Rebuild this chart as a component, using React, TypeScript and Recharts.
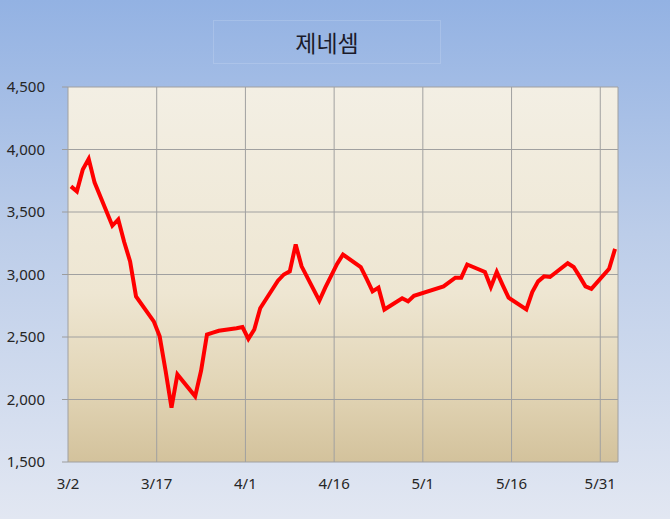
import { CartesianGrid, Line, LineChart, XAxis, YAxis } from 'recharts'

// 2020 trading days (KRX), closing prices
const dates = [
  '3/2', '3/3', '3/4', '3/5', '3/6', '3/9', '3/10', '3/11', '3/12', '3/13',
  '3/16', '3/17', '3/18', '3/19', '3/20', '3/23', '3/24', '3/25', '3/26', '3/27',
  '3/30', '3/31', '4/1', '4/2', '4/3', '4/6', '4/7', '4/8', '4/9', '4/10',
  '4/13', '4/14', '4/16', '4/17', '4/20', '4/21', '4/22', '4/23', '4/24', '4/27',
  '4/28', '4/29', '5/4', '5/6', '5/7', '5/8', '5/11', '5/12', '5/13', '5/14',
  '5/15', '5/18', '5/19', '5/20', '5/21', '5/22', '5/25', '5/26', '5/27', '5/28',
  '5/29', '6/1', '6/2',
]
const prices = [
  3705, 3665, 3840, 3925, 3735, 3390, 3440, 3260, 3105, 2825,
  2625, 2505, 2230, 1935, 2200, 2025, 2230, 2520, 2535, 2550,
  2570, 2580, 2485, 2560, 2730, 2950, 3000, 3025, 3240, 3065,
  2790, 2895, 3085, 3160, 3060, 2965, 2865, 2895, 2720, 2810,
  2785, 2830, 2905, 2975, 2975, 3080, 3020, 2900, 3020, 2915,
  2815, 2720, 2860, 2945, 2985, 2980, 3090, 3060, 2985, 2905,
  2885, 3045, 3205,
]
const dateTicks = ['3/2', '3/17', '4/1', '4/16', '5/1', '5/16', '5/31']
const priceTicks = [1500, 2000, 2500, 3000, 3500, 4000, 4500]

const dayIndex = (md: string) => {
  const [m, d] = md.split('/').map(Number)
  return (Date.UTC(2020, m - 1, d) - Date.UTC(2020, 2, 2)) / 86400000
}

const tickDays = dateTicks.map(dayIndex)
const labelByDay: Record<number, string> = {}
dateTicks.forEach((t, i) => { labelByDay[tickDays[i]] = t })

// each point sits in the middle of its day
const chartData = dates.map((d, i) => ({ x: dayIndex(d) + 0.5, price: prices[i] }))

export default function App() {
  return (
    <div
      style={{
        position: 'fixed',
        left: 0,
        top: 0,
        width: 670,
        height: 519,
        background: 'linear-gradient(to bottom, #93b2e3 0%, #bccde9 45%, #e2e7f2 100%)',
        fontFamily: "'Noto Sans', 'Noto Sans CJK KR', sans-serif",
      }}
    >
      <div
        style={{
          position: 'absolute',
          left: 213,
          top: 20,
          width: 226,
          height: 42,
          border: '1px solid rgba(255,255,255,0.15)',
          display: 'flex',
          alignItems: 'center',
          justifyContent: 'center',
          fontSize: 23,
          color: '#1b1b2a',
          fontFamily: "'Noto Sans CJK KR', sans-serif",
        }}
      >
        제네셈
      </div>
      <LineChart
        width={670}
        height={519}
        data={chartData}
        margin={{ top: 87, right: 52, bottom: 27, left: 8 }}
        style={{ position: 'absolute', left: 0, top: 0 }}
      >
        <defs>
          <linearGradient id="plotBg" x1="0" y1="0" x2="0" y2="1">
            <stop offset="0%" stopColor="#f3efe4" />
            <stop offset="55%" stopColor="#eee6d2" />
            <stop offset="80%" stopColor="#e2d5b6" />
            <stop offset="100%" stopColor="#d3c29c" />
          </linearGradient>
        </defs>
        <CartesianGrid fill="url(#plotBg)" stroke="#a0a0a0" strokeWidth={1} />
        <XAxis
          type="number"
          dataKey="x"
          domain={[0, 93]}
          ticks={tickDays}
          tickFormatter={(v: number) => labelByDay[v] ?? ''}
          height={30}
          axisLine={false}
          tickLine={false}
          tickSize={6}
          tickMargin={10}
          tick={{ fontSize: 15, fill: '#262626' }}
          allowDataOverflow
        />
        <YAxis
          type="number"
          domain={[1500, 4500]}
          ticks={priceTicks}
          tickFormatter={(v: number) => v.toLocaleString('en-US')}
          width={60}
          axisLine={false}
          tickLine={{ stroke: '#9c9c9c' }}
          tickSize={6}
          tickMargin={17}
          tick={{ fontSize: 15, fill: '#262626' }}
          allowDataOverflow
        />
        <Line
          type="linear"
          dataKey="price"
          stroke="#f00"
          strokeWidth={4}
          dot={false}
          isAnimationActive={false}
        />
      </LineChart>
    </div>
  )
}
